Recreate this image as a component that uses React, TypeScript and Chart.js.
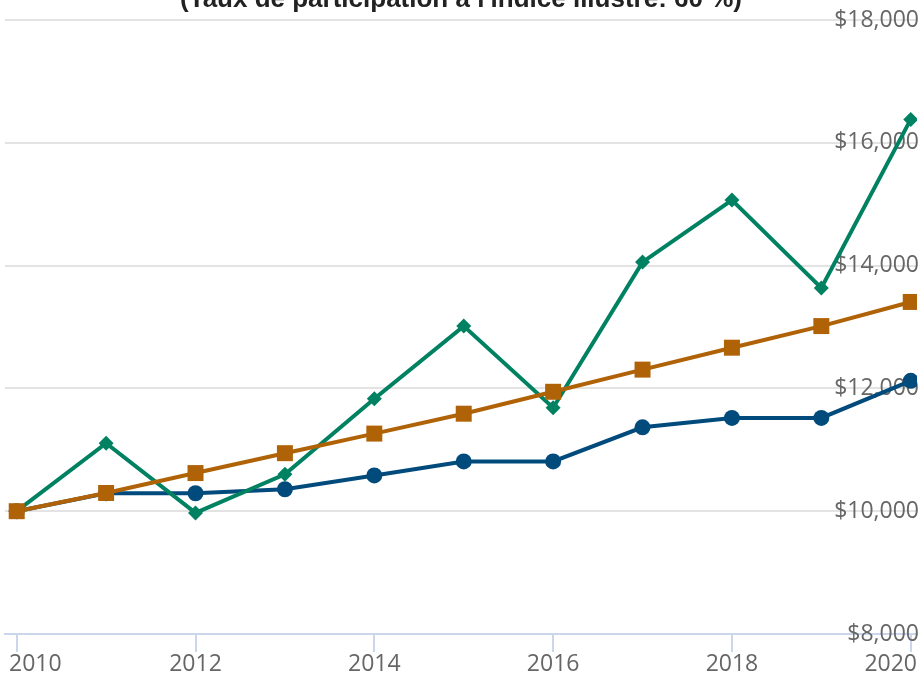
import React, { useEffect, useRef } from "react";
import { Chart, registerables } from "chart.js";

Chart.register(...registerables);

const years = [2010, 2011, 2012, 2013, 2014, 2015, 2016, 2017, 2018, 2019, 2020];
const blueValues = [10000, 10292, 10292, 10357, 10583, 10810, 10810, 11366, 11519, 11519, 12123];
const orangeValues = [10000, 10297, 10621, 10945, 11264, 11588, 11945, 12306, 12663, 13015, 13408];
const greenValues = [10000, 11107, 9972, 10600, 11831, 13015, 11686, 14057, 15068, 13635, 16381];
const xTickValues = [2010, 2012, 2014, 2016, 2018, 2020];
const yTickValues = [8000, 10000, 12000, 14000, 16000, 18000];
const titleText = "(Taux de participation à l'indice illustré: 60 %)";

const BLUE = "#004a7c";
const ORANGE = "#b06206";
const GREEN = "#008262";
const LABEL_FONT = '23px "Open Sans", sans-serif';

const toPoints = (vals: number[]) => years.map((y, i) => ({ x: y, y: vals[i] }));

const titlePlugin = {
  id: "cutTitle",
  afterDraw(chart: any) {
    const ctx = chart.ctx;
    const area = chart.chartArea;
    ctx.save();
    ctx.font = 'bold 26px "Liberation Sans", Arial, sans-serif';
    ctx.fillStyle = "#222222";
    ctx.textAlign = "center";
    ctx.textBaseline = "alphabetic";
    ctx.fillText(titleText, (area.left + area.right) / 2, 7);
    ctx.restore();
  },
};

const xLabelPlugin = {
  id: "xLabels",
  afterDraw(chart: any) {
    const ctx = chart.ctx;
    const scale = chart.scales.x;
    const W = chart.width;
    ctx.save();
    ctx.font = LABEL_FONT;
    ctx.fillStyle = "#666666";
    ctx.textAlign = "left";
    ctx.textBaseline = "alphabetic";
    xTickValues.forEach((v) => {
      const text = String(v);
      const w = ctx.measureText(text).width;
      const px = scale.getPixelForValue(v);
      let left = px - w / 2;
      if (left < 9) left = 9;
      if (left + w > W - 2) left = W - 2 - w;
      ctx.fillText(text, left, 671);
    });
    ctx.restore();
  },
};

export default function App() {
  const ref = useRef<HTMLCanvasElement>(null);
  useEffect(() => {
    if (!ref.current) return;
    const chart = new Chart(ref.current, {
      type: "line",
      data: {
        datasets: [
          {
            label: "orange",
            data: toPoints(orangeValues),
            borderColor: ORANGE,
            backgroundColor: ORANGE,
            borderWidth: 4,
            pointStyle: "rect",
            pointRadius: 11.3,
            pointBorderWidth: 0,
            tension: 0,
          },
          {
            label: "green",
            data: toPoints(greenValues),
            borderColor: GREEN,
            backgroundColor: GREEN,
            borderWidth: 4,
            pointStyle: "rectRot",
            pointRadius: 7.5,
            pointBorderWidth: 0,
            tension: 0,
          },
          {
            label: "blue",
            data: toPoints(blueValues),
            borderColor: BLUE,
            backgroundColor: BLUE,
            borderWidth: 4,
            pointStyle: "circle",
            pointRadius: 8,
            pointBorderWidth: 0,
            tension: 0,
          },
        ],
      },
      options: {
        animation: false,
        responsive: false,
        maintainAspectRatio: false,
        layout: { autoPadding: false, padding: { left: 5, right: 2, top: 20, bottom: 0 } },
        plugins: {
          legend: { display: false },
          title: { display: false },
          tooltip: { enabled: false },
        },
        scales: {
          x: {
            type: "linear",
            min: 2009.869,
            max: 2020.07,
            afterBuildTicks: (scale: any) => {
              scale.ticks = xTickValues.map((v) => ({ value: v }));
            },
            afterFit: (scale: any) => {
              scale.height = 39;
              scale.paddingLeft = 0;
              scale.paddingRight = 0;
            },
            grid: {
              drawOnChartArea: false,
              drawTicks: true,
              tickLength: 18,
              color: "#ccd6eb",
              lineWidth: 2,
            },
            border: { display: true, color: "#ccd6eb", width: 2 },
            ticks: {
              display: false,
              maxRotation: 0,
            },
          },
          y: {
            position: "right",
            min: 8000,
            max: 18000,
            afterBuildTicks: (scale: any) => {
              scale.ticks = yTickValues.map((v) => ({ value: v }));
            },
            afterFit: (scale: any) => {
              scale.width = 0;
              scale.paddingTop = 0;
              scale.paddingBottom = 0;
            },
            grid: {
              drawTicks: false,
              color: (c: any) => (c.tick && c.tick.value === 8000 ? "rgba(0,0,0,0)" : "#e3e3e3"),
              lineWidth: 2,
            },
            border: { display: false },
            ticks: {
              mirror: true,
              padding: 2,
              color: "#666666",
              font: { family: '"Open Sans", sans-serif', size: 23 },
              callback: (v: any) => "$" + Number(v).toLocaleString("en-US"),
            },
          },
        },
      },
      plugins: [titlePlugin, xLabelPlugin],
    });
    return () => chart.destroy();
  }, []);
  return (
    <div style={{ position: "fixed", left: 0, top: 0, width: 919, height: 673 }}>
      <canvas ref={ref} width={919} height={673} style={{ width: 919, height: 673, display: "block" }} />
    </div>
  );
}
